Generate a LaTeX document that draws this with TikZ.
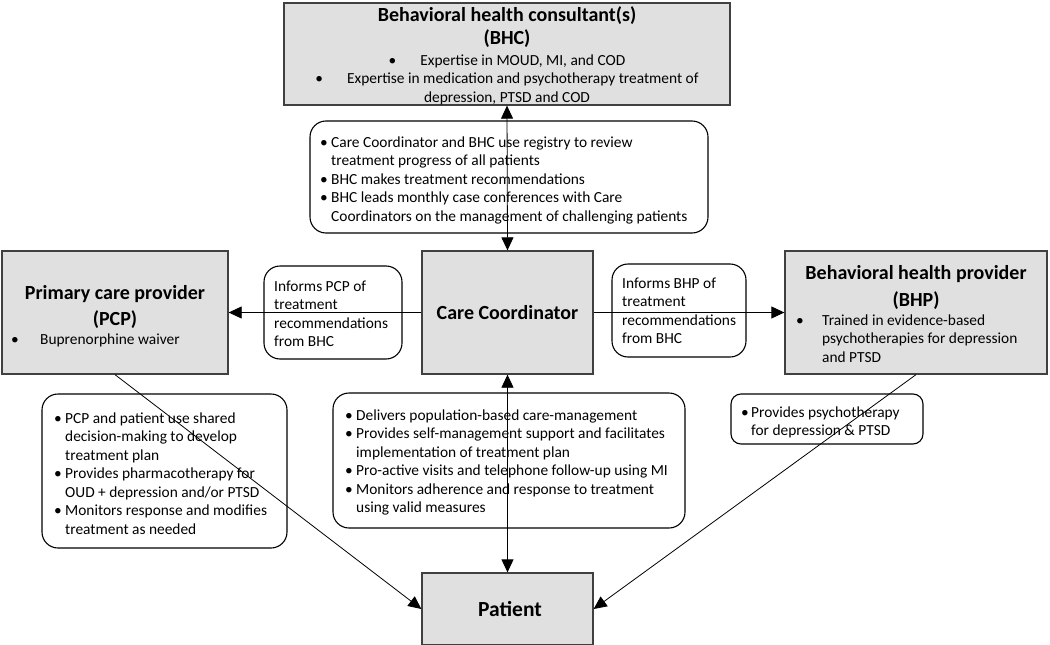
\documentclass[tikz,border=0pt]{standalone}
\usepackage{fontspec}
\setmainfont{Carlito}
\usetikzlibrary{arrows.meta,positioning}
\definecolor{boxfill}{HTML}{E0E0E0}
\definecolor{boxline}{HTML}{404040}
\newcommand{\ftxt}{\fontsize{15.4}{18.5}\selectfont}
\newcommand{\fttl}{\fontsize{20}{24}\selectfont\bfseries}
\begin{document}
\begin{tikzpicture}[x=1pt,y=-1pt,
  graybox/.style={draw=boxline,fill=boxfill,line width=1.3pt,inner sep=0pt},
  rbox/.style={draw=black,line width=1.1pt,rounded corners=16pt,inner sep=0pt},
  txt/.style={inner sep=0pt,font=\ftxt,anchor=base west},
  ttl/.style={inner sep=0pt,font=\fttl,anchor=base},
  link/.style={line width=0.8pt,-{Triangle[length=13pt,width=12pt]}},
  link2/.style={line width=0.8pt,{Triangle[length=13pt,width=12pt]}-{Triangle[length=13pt,width=12pt]}}
]
\useasboundingbox (0,0) rectangle (1050,645);

% ---------- gray boxes ----------
\node[graybox,minimum width=446pt,minimum height=102pt] (bhc) at (507,54) {};
\node[graybox,minimum width=171pt,minimum height=123pt] (cc) at (507.5,312.5) {};
\node[graybox,minimum width=226pt,minimum height=123pt] (pcp) at (115,312.5) {};
\node[graybox,minimum width=262pt,minimum height=123pt] (bhp) at (916,312.5) {};
\node[graybox,minimum width=171pt,minimum height=72pt] (pat) at (507.5,609) {};

% ---------- rounded boxes ----------
\node[rbox,minimum width=398pt,minimum height=112pt] (rtop) at (509,177) {};
\node[rbox,minimum width=138pt,minimum height=93pt] (rpcp) at (333,312.5) {};
\node[rbox,minimum width=134pt,minimum height=93pt] (rbhp) at (679,310.5) {};
\node[rbox,minimum width=245pt,minimum height=154pt] (rleft) at (164.5,471) {};
\node[rbox,minimum width=352pt,minimum height=135pt] (rmid) at (509,460.5) {};
\node[rbox,minimum width=192pt,minimum height=50pt,rounded corners=10pt] (rright) at (827,419) {};

% ---------- texts in gray boxes ----------
\node[ttl] (bhct) at (507,21) {\begin{tabular}[t]{@{}c@{}}Behavioral health consultant(s)\\(BHC)\end{tabular}};
\node[inner sep=0pt,font=\ftxt,anchor=base] (bhcb) at (507,65) {\begin{tabular}[t]{@{}c@{}}%
\textbullet\hspace{24pt}Expertise in MOUD, MI, and COD\\
\textbullet\hspace{24pt}Expertise in medication and psychotherapy treatment of\\
depression, PTSD and COD\end{tabular}};

\node[inner sep=0pt,font=\fttl] (cct) at (cc.center) {Care Coordinator};

\node[ttl] (pcpt) at (115,299) {\renewcommand{\arraystretch}{1.12}\begin{tabular}[t]{@{}c@{}}Primary care provider\\(PCP)\end{tabular}};
\node[txt] (pcpb) at (11,344) {\makebox[29pt][l]{\textbullet}Buprenorphine waiver};

\node[ttl] (bhpt) at (916,279) {\renewcommand{\arraystretch}{1.15}\begin{tabular}[t]{@{}c@{}}Behavioral health provider\\(BHP)\end{tabular}};
\node[txt] (bhpb) at (796,325) {\begin{tabular}[t]{@{}p{26pt}@{}l@{}}\textbullet & Trained in evidence-based\\
 & psychotherapies for depression\\ & and PTSD\end{tabular}};

\node[inner sep=0pt,font=\fontsize{21.5}{24}\selectfont\bfseries] (patt) at (510,609) {Patient};

% ---------- texts in rounded boxes ----------
\node[txt] (rtopt) at (320,147) {\begin{tabular}[t]{@{}p{11pt}@{}l@{}}%
\textbullet & Care Coordinator and BHC use registry to review\\
 & treatment progress of all patients\\
\textbullet & BHC makes treatment recommendations\\
\textbullet & BHC leads monthly case conferences with Care\\
 & Coordinators on the management of challenging patients\end{tabular}};

\node[txt] (rpcpt) at (274,291) {\begin{tabular}[t]{@{}l@{}}Informs PCP of\\treatment\\recommendations\\from BHC\end{tabular}};
\node[txt] (rbhpt) at (622,288) {\begin{tabular}[t]{@{}l@{}}Informs BHP of\\treatment\\recommendations\\from BHC\end{tabular}};

\node[txt] (rleftt) at (54,423) {\begin{tabular}[t]{@{}p{11pt}@{}l@{}}%
\textbullet & PCP and patient use shared\\
 & decision-making to develop\\
 & treatment plan\\
\textbullet & Provides pharmacotherapy for\\
 & OUD + depression and/or PTSD\\
\textbullet & Monitors response and modifies\\
 & treatment as needed\end{tabular}};

\node[txt] (rmidt) at (345,420) {\begin{tabular}[t]{@{}p{11pt}@{}l@{}}%
\textbullet & Delivers population-based care-management\\
\textbullet & Provides self-management support and facilitates\\
 & implementation of treatment plan\\
\textbullet & Pro-active visits and telephone follow-up using MI\\
\textbullet & Monitors adherence and response to treatment\\
 & using valid measures\end{tabular}};

\node[txt] (rrightt) at (741,417) {\begin{tabular}[t]{@{}p{10pt}@{}l@{}}%
\textbullet & Provides psychotherapy\\
 & for depression \& PTSD\end{tabular}};

% ---------- connectors ----------
\draw[link2] (bhc.south) -- (cc.north);
\draw[link2] (cc.south) -- (pat.north);
\draw[link] (cc.west) -- (pcp.east);
\draw[link] (cc.east) -- (bhp.east -| bhp.west);
\draw[link] (pcp.south) -- (pat.west);
\draw[link] (bhp.south) -- (pat.east);
\end{tikzpicture}
\end{document}
